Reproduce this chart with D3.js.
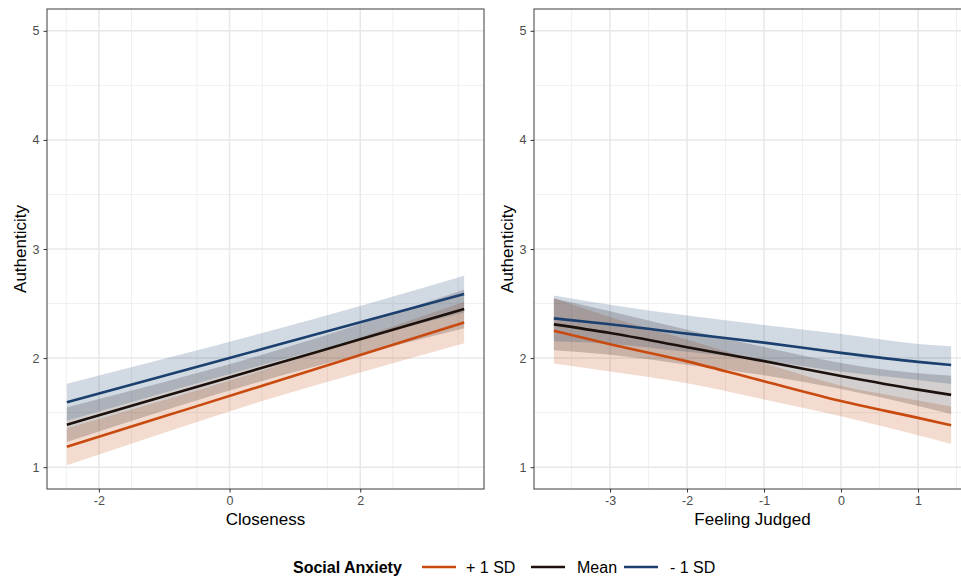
<!DOCTYPE html>
<html>
<head>
<meta charset="utf-8">
<script src="https://cdn.jsdelivr.net/npm/d3@7"></script>
<style>
  body { margin: 0; background: #fff; }
  text { font-family: "Liberation Sans", Arial, Helvetica, sans-serif; }
</style>
</head>
<body>
<svg id="chart" width="961" height="577"></svg>
<script>
// groups (legend order)
var groups = ["+ 1 SD", "Mean", "- 1 SD"];

// left panel: Closeness
var closeX = [-2.49, -1, 0.5, 2, 3.59];
var closeHighFit = [1.187, 1.466, 1.747, 2.029, 2.327];
var closeMeanFit = [1.39, 1.65, 1.911, 2.173, 2.45];
var closeLowFit  = [1.595, 1.838, 2.083, 2.328, 2.587];
var closeHighCI = [0.17, 0.15, 0.14, 0.16, 0.19];
var closeMeanCI = [0.16, 0.13, 0.12, 0.14, 0.177];
var closeLowCI  = [0.17, 0.155, 0.147, 0.15, 0.168];
var closeTicks = [-2, 0, 2];

// right panel: Feeling Judged
var judgedX = [-3.73, -3, -2, -1, 0, 1, 1.43];
var judgedHighFit = [2.251, 2.127, 1.97, 1.787, 1.606, 1.452, 1.384];
var judgedMeanFit = [2.309, 2.23, 2.10, 1.972, 1.836, 1.711, 1.663];
var judgedLowFit  = [2.364, 2.31, 2.224, 2.142, 2.048, 1.965, 1.936];
var judgedHighCI = [0.30, 0.25, 0.2, 0.167, 0.14, 0.16, 0.172];
var judgedMeanCI = [0.238, 0.2, 0.16, 0.13, 0.12, 0.15, 0.176];
var judgedLowCI  = [0.21, 0.18, 0.166, 0.162, 0.172, 0.165, 0.173];
var judgedTicks = [-3, -2, -1, 0, 1];

var yTicks = [1, 2, 3, 4, 5];

var color = d3.scaleOrdinal().domain(groups).range(["#C94A0E", "#1C110C", "#1B3F6E"]);

var svg = d3.select("#chart");

function makeSeries(xs, fits, cis){
  return groups.map(function(g, i){
    return {
      group: g,
      points: xs.map(function(x, j){
        return {x: x, y: fits[i][j], lo: fits[i][j] - cis[i][j], hi: fits[i][j] + cis[i][j]};
      })
    };
  });
}

function drawPanel(opt){
  var w = 437, h = 480;
  var g = svg.append("g").attr("transform", "translate(" + opt.left + "," + opt.top + ")");

  var xExt = d3.extent(opt.xs);
  var pad = (xExt[1] - xExt[0]) * 0.05;
  var xScale = d3.scaleLinear().domain([xExt[0] - pad, xExt[1] + pad]).range([0, w]);
  var yScale = d3.scaleLinear().domain([0.8, 5.2]).range([h, 0]);

  // minor grid
  var xMinor = [];
  for (var v = Math.ceil(xScale.domain()[0]) - 0.5; v < xScale.domain()[1]; v += 1) {
    if (v > xScale.domain()[0]) xMinor.push(v);
  }
  var yMinor = [1.5, 2.5, 3.5, 4.5];

  g.selectAll(".xminor").data(xMinor).enter().append("line")
    .attr("x1", function(d){ return xScale(d); }).attr("x2", function(d){ return xScale(d); })
    .attr("y1", 0).attr("y2", h)
    .attr("stroke", "#F0F0F0").attr("stroke-width", 1);
  g.selectAll(".yminor").data(yMinor).enter().append("line")
    .attr("y1", function(d){ return yScale(d); }).attr("y2", function(d){ return yScale(d); })
    .attr("x1", 0).attr("x2", w)
    .attr("stroke", "#F0F0F0").attr("stroke-width", 1);

  // major grid
  g.selectAll(".xmajor").data(opt.xTicks).enter().append("line")
    .attr("x1", function(d){ return xScale(d); }).attr("x2", function(d){ return xScale(d); })
    .attr("y1", 0).attr("y2", h)
    .attr("stroke", "#E8E8E8").attr("stroke-width", 1.5);
  g.selectAll(".ymajor").data(yTicks).enter().append("line")
    .attr("y1", function(d){ return yScale(d); }).attr("y2", function(d){ return yScale(d); })
    .attr("x1", 0).attr("x2", w)
    .attr("stroke", "#E8E8E8").attr("stroke-width", 1.5);

  var series = makeSeries(opt.xs, opt.fits, opt.cis);

  var area = d3.area()
    .curve(d3.curveMonotoneX)
    .x(function(d){ return xScale(d.x); })
    .y0(function(d){ return yScale(d.lo); })
    .y1(function(d){ return yScale(d.hi); });

  var line = d3.line()
    .curve(d3.curveMonotoneX)
    .x(function(d){ return xScale(d.x); })
    .y(function(d){ return yScale(d.y); });

  g.selectAll(".ribbon").data(series).enter().append("path")
    .attr("d", function(d){ return area(d.points); })
    .attr("fill", function(d){ return color(d.group); })
    .attr("fill-opacity", 0.2);

  g.selectAll(".fit").data(series).enter().append("path")
    .attr("d", function(d){ return line(d.points); })
    .attr("fill", "none")
    .attr("stroke", function(d){ return color(d.group); })
    .attr("stroke-width", 2.6);

  // border
  g.append("rect").attr("x", 0).attr("y", 0).attr("width", w).attr("height", h)
    .attr("fill", "none").attr("stroke", "#4D4D4D").attr("stroke-width", 1.1);

  // axes
  var xAxis = d3.axisBottom(xScale).tickValues(opt.xTicks).tickSize(3.5).tickPadding(4)
    .tickFormat(function(d){ return d < 0 ? "-" + Math.abs(d) : String(d); });
  var ax = g.append("g").attr("transform", "translate(0," + h + ")").call(xAxis);
  ax.select(".domain").remove();
  ax.selectAll("line").attr("stroke", "#333");
  ax.selectAll("text").attr("fill", "#4D4D4D").style("font-size", "12.5px");

  var yAxis = d3.axisLeft(yScale).tickValues(yTicks).tickSize(3.5).tickPadding(4)
    .tickFormat(d3.format("d"));
  var ay = g.append("g").call(yAxis);
  ay.select(".domain").remove();
  ay.selectAll("line").attr("stroke", "#333");
  ay.selectAll("text").attr("fill", "#4D4D4D").style("font-size", "12.5px");

  g.append("text")
    .attr("x", w / 2).attr("y", h + 36)
    .attr("text-anchor", "middle")
    .style("font-size", "17px").attr("fill", "#000")
    .text(opt.xTitle);

  g.append("text")
    .attr("transform", "translate(" + (-21) + "," + (h / 2) + ") rotate(-90)")
    .attr("text-anchor", "middle")
    .style("font-size", "17px").attr("fill", "#000")
    .text("Authenticity");
}

drawPanel({
  left: 47, top: 9,
  xs: closeX,
  fits: [closeHighFit, closeMeanFit, closeLowFit],
  cis: [closeHighCI, closeMeanCI, closeLowCI],
  xTicks: closeTicks,
  xTitle: "Closeness"
});

drawPanel({
  left: 534, top: 9,
  xs: judgedX,
  fits: [judgedHighFit, judgedMeanFit, judgedLowFit],
  cis: [judgedHighCI, judgedMeanCI, judgedLowCI],
  xTicks: judgedTicks,
  xTitle: "Feeling Judged"
});

// legend
var legend = svg.append("g").attr("transform", "translate(0,567)");
legend.append("text").attr("x", 293).attr("y", 6)
  .style("font-size", "16px").style("font-weight", "bold").attr("fill", "#000")
  .text("Social Anxiety");

var keyX = [422, 531, 624];
var labelX = [466, 577, 670];
groups.forEach(function(gname, i){
  legend.append("line")
    .attr("x1", keyX[i]).attr("x2", keyX[i] + 34)
    .attr("y1", 0).attr("y2", 0)
    .attr("stroke", color(gname)).attr("stroke-width", 2.6);
  legend.append("text")
    .attr("x", labelX[i]).attr("y", 6)
    .style("font-size", "16px").attr("fill", "#000")
    .text(gname);
});
</script>
</body>
</html>
